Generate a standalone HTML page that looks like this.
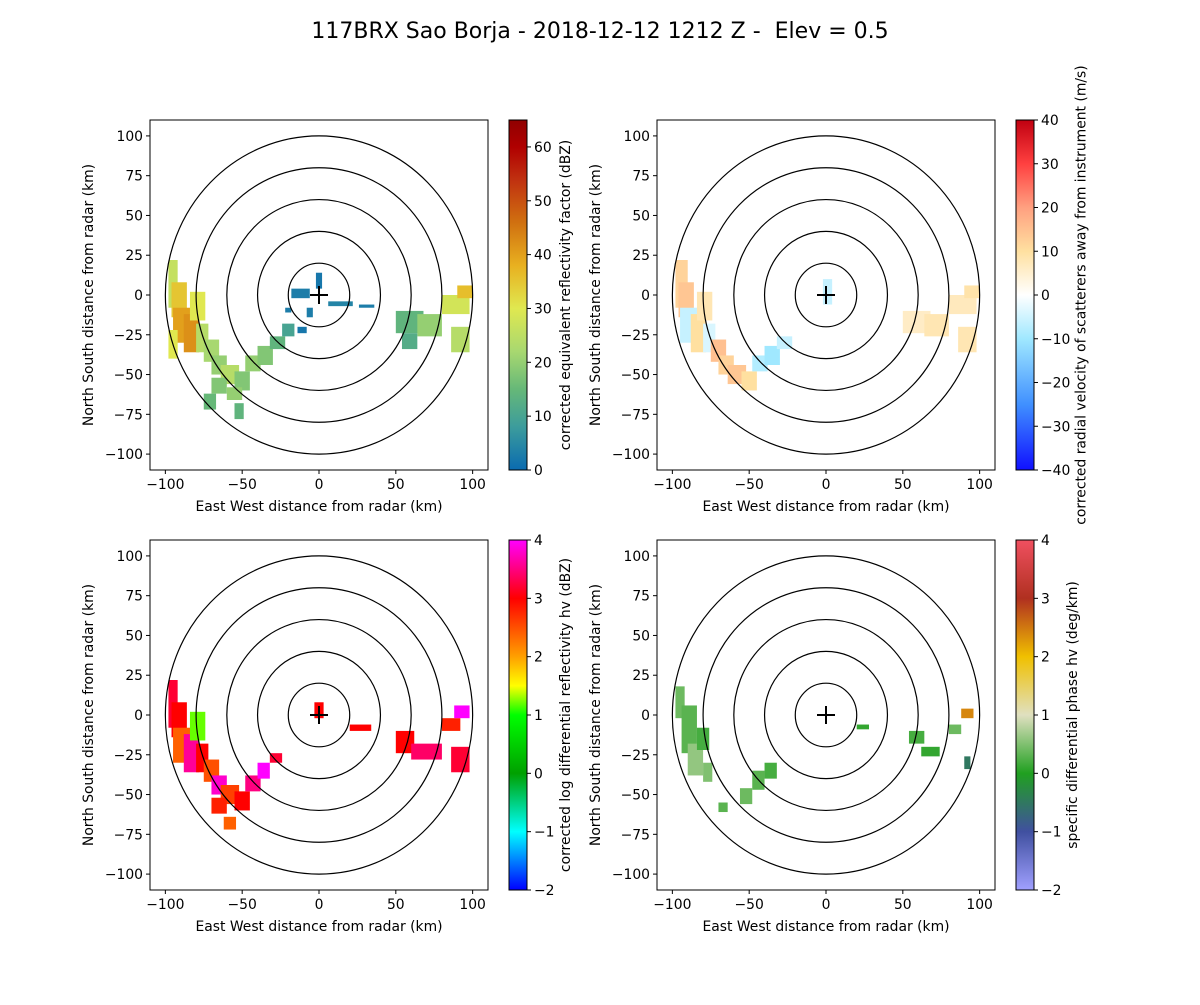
<!DOCTYPE html>
<html><head><meta charset="utf-8"><style>
body{margin:0;background:#fff}
svg text{font-family:"DejaVu Sans","Liberation Sans",sans-serif;fill:#000}
</style></head><body>
<svg id="fig" width="1200" height="1000" xmlns="http://www.w3.org/2000/svg">
<rect width="1200" height="1000" fill="#fff"/>
<text x="600" y="38" font-size="22" text-anchor="middle" xml:space="preserve">117BRX Sao Borja - 2018-12-12 1212 Z -  Elev = 0.5</text>
</svg>
<script>
// data: patches [x_km, y_km(top), w_km, h_km, value]
const reflPatches=[[-98,22,6,30,26],[-96,8,10,22,35],[-95,-8,12,22,40],[-88,-12,10,24,42],[-84,2,10,18,30],[-80,-18,8,18,24],[-98,-22,6,18,30],
[-75,-28,10,14,22],[-70,-38,10,12,20],[-64,-44,12,12,24],[-55,-48,10,12,18],[-48,-38,10,10,20],[-40,-32,10,12,18],[-32,-26,10,8,14],[-24,-18,8,8,10],[-70,-52,10,10,18],[-75,-62,8,10,15],[-60,-58,10,8,20],[-55,-68,6,10,14],
[50,-10,18,14,14],[64,-12,16,14,20],[80,0,18,12,28],[86,-20,12,16,24],[90,6,10,8,36],[54,-24,10,10,12],
[-18,4,12,6,3],[-2,14,4,10,2],[6,-4,16,3,4],[26,-6,10,2,3],[-14,-20,6,4,2],[-8,-8,4,6,3],[-22,-8,4,3,3]];
const velPatches=[[-98,22,8,30,12],[-96,8,10,22,14],[-95,-8,12,22,-6],[-88,-12,10,24,10],[-84,2,10,18,8],[-80,-18,8,18,-4],
[-75,-28,10,14,15],[-70,-38,10,12,12],[-64,-44,12,12,14],[-55,-48,10,12,10],[-48,-38,10,10,-8],[-40,-32,10,12,-10],[-32,-26,10,8,-6],
[50,-10,18,14,6],[64,-12,16,14,8],[80,0,18,12,7],[86,-20,12,16,8],[90,6,10,8,9],[-2,10,6,16,-6]];
const zdrPatches=[[-98,22,6,30,3.2],[-96,8,10,22,3.0],[-95,-8,12,22,2.4],[-88,-12,10,24,3.6],[-84,2,10,18,1.2],[-80,-18,8,18,3.0],
[-75,-28,10,14,2.5],[-70,-38,10,12,3.8],[-64,-44,12,12,2.6],[-55,-48,10,12,3.0],[-48,-38,10,10,3.5],[-40,-30,8,10,4.0],[-32,-24,8,6,3.2],[-70,-52,10,10,2.8],[-62,-64,8,8,2.4],
[50,-10,12,14,3.0],[60,-18,20,10,3.4],[80,-2,12,8,2.8],[86,-20,12,16,3.2],[88,6,10,8,4.0],[20,-6,14,4,3.0],[-3,8,6,10,3.0]];
const kdpPatches=[[-98,18,6,20,0.4],[-94,6,10,30,0.3],[-90,-18,10,20,0.6],[-84,-8,8,14,0.2],[-80,-30,6,12,0.5],
[-48,-35,8,12,0.3],[-40,-30,8,10,0.2],[-56,-46,8,10,0.4],[-70,-55,6,6,0.3],
[54,-10,10,8,0.2],[62,-20,12,6,0.1],[80,-6,8,6,0.4],[88,4,8,6,2.4],[90,-26,4,8,-0.5],[20,-6,8,3,0.1]];
// colormap stops
const reflStops=[[0,"#0a6bb0"],[8,"#3c9c9c"],[15,"#66b878"],[22,"#a8d870"],[30,"#e0e850"],[38,"#e8b020"],[46,"#d07010"],[54,"#c03010"],[60,"#b00000"],[65,"#900000"]];
const velStops=[[-40,"#1010ff"],[-25,"#4090ff"],[-10,"#a0e8ff"],[0,"#ffffff"],[10,"#ffe0a0"],[20,"#ffa080"],[30,"#ff4040"],[40,"#c00010"]];
const zdrStops=[[-2,"#0000ff"],[-1,"#00ffff"],[0,"#00a000"],[1,"#00ff00"],[1.5,"#ffff00"],[2,"#ffa000"],[3,"#ff0000"],[4,"#ff00ff"]];
const kdpStops=[[-2,"#a0a0ff"],[-1,"#4050a0"],[0,"#20a020"],[1,"#e0e0c0"],[2,"#f0c000"],[3,"#b03020"],[4,"#f05060"]];
const ticksKm=[-100,-50,0,50,100];
const yTicksKm=[-100,-75,-50,-25,0,25,50,75,100];
const ringsKm=[20,40,60,80,100];
const NS="http://www.w3.org/2000/svg";
const FS=13.9;
const svg=document.getElementById('fig');
function el(t,a,p){const e=document.createElementNS(NS,t);for(const k in a)e.setAttribute(k,a[k]);(p||svg).appendChild(e);return e;}
function hex(c){return [1,3,5].map(i=>parseInt(c.substr(i,2),16));}
function cmap(stops,v){if(v<=stops[0][0])return stops[0][1];for(let i=1;i<stops.length;i++){if(v<=stops[i][0]){const t=(v-stops[i-1][0])/(stops[i][0]-stops[i-1][0]);const a=hex(stops[i-1][1]),b=hex(stops[i][1]);return "rgb("+a.map((x,j)=>Math.round(x+(b[j]-x)*t)).join(",")+")";}}return stops[stops.length-1][1];}
function panel(name,ax,ay,patches,stops,vmin,vmax,cbTicks,cbLabel){
  const W=338,H=350;
  const sx=k=>ax+(k+110)/220*W, sy=k=>ay+(110-k)/220*H;
  const g=el('g',{});
  
  
  const clipId=name+'clip';
  const cp=el('clipPath',{id:clipId},g);el('rect',{x:ax,y:ay,width:W,height:H},cp);
  const dg=el('g',{'clip-path':'url(#'+clipId+')'},g);
  patches.forEach(p=>{
    const r=el('rect',{x:sx(p[0]),y:sy(p[1]),width:p[2]/220*W,height:p[3]/220*H,fill:cmap(stops,p[4])},dg);
    
    
  });
  ringsKm.forEach(rk=>{
    const c=el('ellipse',{cx:sx(0),cy:sy(0),rx:rk/220*W,ry:rk/220*H,fill:'none',stroke:'#000','stroke-width':1.2},g);
    
    
  });
  el('line',{x1:sx(0)-9,x2:sx(0)+9,y1:sy(0),y2:sy(0),stroke:'#000','stroke-width':2},g);
  el('line',{x1:sx(0),x2:sx(0),y1:sy(0)-9,y2:sy(0)+9,stroke:'#000','stroke-width':2},g);
  el('rect',{x:ax,y:ay,width:W,height:H,fill:'none',stroke:'#000','stroke-width':1},g);
  ticksKm.forEach(t=>{const x=sx(t);el('line',{x1:x,x2:x,y1:ay+H,y2:ay+H+4,stroke:'#000'},g);
    const tx=el('text',{x:x,y:ay+H+19,'font-size':FS,'text-anchor':'middle'},g);tx.textContent=t<0?'\u2212'+(-t):t;
    });
  yTicksKm.forEach(t=>{const y=sy(t);el('line',{x1:ax-4,x2:ax,y1:y,y2:y,stroke:'#000'},g);
    const tx=el('text',{x:ax-7,y:y+5,'font-size':FS,'text-anchor':'end'},g);tx.textContent=t<0?'\u2212'+(-t):t;
    });
  const xl=el('text',{x:ax+W/2,y:ay+H+41,'font-size':FS,'text-anchor':'middle'},g);xl.textContent='East West distance from radar (km)';
  
  const yl=el('text',{x:0,y:0,'font-size':FS,'text-anchor':'middle',transform:'translate('+(ax-57)+','+(ay+H/2)+') rotate(-90)'},g);yl.textContent='North South distance from radar (km)';
  
  // colorbar
  const cx=ax+359,cw=18;
  const gid=name+'grad';const lg=el('linearGradient',{id:gid,x1:0,y1:1,x2:0,y2:0},g);
  stops.forEach(s=>el('stop',{offset:(s[0]-vmin)/(vmax-vmin),'stop-color':s[1]},lg));
  const cb=el('rect',{x:cx,y:ay,width:cw,height:H,fill:'url(#'+gid+')',stroke:'#000','stroke-width':1},g);
  
  cbTicks.forEach(t=>{const y=ay+H-(t-vmin)/(vmax-vmin)*H;el('line',{x1:cx+cw,x2:cx+cw+4,y1:y,y2:y,stroke:'#000'},g);
    const tx=el('text',{x:cx+cw+7,y:y+5,'font-size':FS},g);tx.textContent=t<0?'\u2212'+(-t):t;
    });
  const maxw=Math.max(...cbTicks.map(t=>String(t).length));
  const cl=el('text',{x:0,y:0,'font-size':FS,'text-anchor':'middle',transform:'translate('+(cx+cw+26+maxw*8.5)+','+(ay+H/2)+') rotate(-90)'},g);cl.textContent=cbLabel;
  
}
panel('reflectivity',150,120,reflPatches,reflStops,0,65,[0,10,20,30,40,50,60],'corrected equivalent reflectivity factor (dBZ)');
panel('velocity',657,120,velPatches,velStops,-40,40,[-40,-30,-20,-10,0,10,20,30,40],'corrected radial velocity of scatterers away from instrument (m/s)');
panel('zdr',150,540,zdrPatches,zdrStops,-2,4,[-2,-1,0,1,2,3,4],'corrected log differential reflectivity hv (dBZ)');
panel('kdp',657,540,kdpPatches,kdpStops,-2,4,[-2,-1,0,1,2,3,4],'specific differential phase hv (deg/km)');
</script>
</body></html>
